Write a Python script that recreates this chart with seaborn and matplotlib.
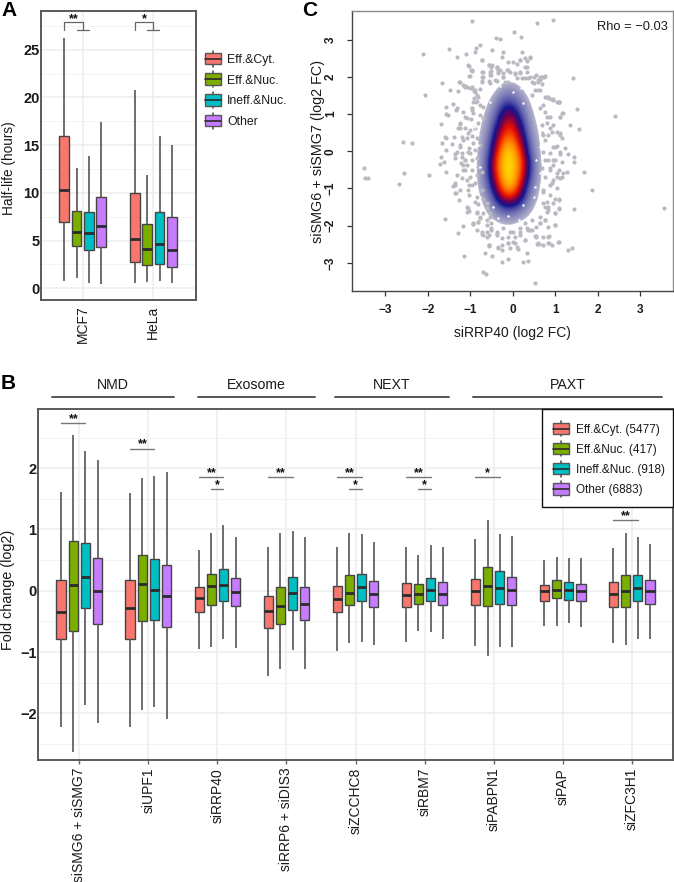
import numpy as np
import pandas as pd
import matplotlib
matplotlib.use("Agg")
import matplotlib.pyplot as plt
import seaborn as sns
from matplotlib.colors import LinearSegmentedColormap
from matplotlib.legend_handler import HandlerBase
from matplotlib.lines import Line2D
from matplotlib.patches import Rectangle

classes = ["Eff.&Cyt.", "Eff.&Nuc.", "Ineff.&Nuc.", "Other"]
class_counts = [5477, 417, 918, 6883]
palette = ["#F8766D", "#7CAE00", "#00BFC4", "#C77CFF"]

# panel A, five number summaries (4 boxes per cell line)
a_groups = ["MCF7", "HeLa"]
a_low = [0.77, 1.05, 0.6, 0.42, 0.6, 0.63, 0.77, 0.6]
a_q1 = [6.9, 4.4, 4.0, 4.3, 2.8, 2.4, 2.58, 2.27]
a_med = [10.3, 5.9, 5.76, 6.5, 5.2, 4.08, 4.64, 3.98]
a_q3 = [15.96, 8.07, 8.0, 9.57, 10.0, 6.77, 8.03, 7.44]
a_high = [26.2, 12.64, 13.9, 17.4, 20.8, 11.87, 16.0, 15.0]

# panel B
b_groups = ["siSMG6 + siSMG7", "siUPF1", "siRRP40", "siRRP6 + siDIS3", "siZCCHC8",
            "siRBM7", "siPABPN1", "siPAP", "siZFC3H1"]
b_low = [-2.22, -2.63, -1.86, -2.15, -2.22, -1.95, -1.90, -2.10, -0.95, -0.92, -0.79, -0.93,
         -1.39, -1.27, -0.97, -1.27, -0.985, -0.86, -0.84, -0.89, -0.84, -0.65, -0.68, -0.78,
         -0.90, -1.06, -0.91, -0.91, -0.57, -0.57, -0.53, -0.59, -0.86, -0.89, -0.78, -0.79]
b_q1 = [-0.79, -0.65, -0.28, -0.55, -0.79, -0.50, -0.47, -0.59, -0.34, -0.23, -0.16, -0.25,
        -0.61, -0.54, -0.32, -0.48, -0.35, -0.24, -0.17, -0.27, -0.26, -0.22, -0.17, -0.23,
        -0.24, -0.25, -0.21, -0.23, -0.17, -0.12, -0.15, -0.17, -0.27, -0.27, -0.17, -0.21]
b_med = [-0.35, 0.10, 0.22, -0.005, -0.28, 0.11, 0.005, -0.09, -0.125, 0.08, 0.10, -0.02,
         -0.33, -0.25, -0.04, -0.22, -0.13, -0.04, 0.055, -0.045, -0.07, -0.05, 0.02, -0.045,
         -0.01, 0.08, 0.04, 0.01, 0.0, 0.016, 0.005, -0.005, -0.06, -0.005, 0.04, -0.01]
b_q3 = [0.17, 0.82, 0.78, 0.53, 0.17, 0.58, 0.52, 0.42, 0.065, 0.27, 0.35, 0.21,
        -0.08, 0.055, 0.22, 0.065, 0.08, 0.25, 0.28, 0.16, 0.13, 0.11, 0.21, 0.15,
        0.20, 0.38, 0.32, 0.23, 0.10, 0.18, 0.14, 0.115, 0.14, 0.26, 0.26, 0.18]
b_high = [1.605, 2.54, 2.28, 2.13, 1.59, 1.84, 1.88, 1.93, 0.67, 0.95, 1.08, 0.88,
          0.72, 0.94, 0.98, 0.87, 0.72, 0.94, 0.93, 0.79, 0.71, 0.59, 0.75, 0.71,
          0.85, 1.16, 0.93, 0.90, 0.50, 0.555, 0.53, 0.53, 0.69, 0.95, 0.87, 0.76]

# significance bars in B: group, first box, last box, height, label
sig_group = [0, 1, 2, 2, 3, 4, 4, 5, 5, 6, 8]
sig_first = [0, 0, 0, 1, 0, 0, 1, 0, 1, 0, 0]
sig_last = [2, 2, 2, 2, 2, 2, 2, 2, 2, 2, 2]
sig_y = [2.73, 2.32, 1.855, 1.655, 1.855, 1.855, 1.655, 1.855, 1.655, 1.855, 1.15]
sig_label = ["**", "**", "**", "*", "**", "**", "*", "**", "*", "*", "**"]

# header lines over B
head_names = ["NMD", "Exosome", "NEXT", "PAXT"]
head_left = [52, 198, 335, 473]
head_right = [174, 315, 449, 662]

# panel C, loose points
c_x = [-.97, .57, .96, .02, .19, -.39, -.30, -.77, -.87, -.89, -.49, -1.51, -2.11, -1.32, -1.10, -.22, -.26, .21,
       -.73, -1.04, -.97, -.38, -.49, .41, .33, .17, .09, -.10, 1.43, .76, .64, -1.66, -1.26, -1.48, -2.06, -1.12,
       -1.0, -.92, 1.51, 2.40, 1.56, 1.35, 1.15, 1.04, .84, .96, -2.58, -2.37, -1.68, -1.52, -1.56, -1.41, -1.32,
       -1.16, -1.59, -1.67, -1.39, -1.70, -1.61, -1.71, -1.35, -1.56, -1.98, -3.51, -3.48, -3.42, -2.56, -2.69,
       -1.12, -1.16, -1.37, -1.40, -1.34, -1.26, -1.59, -1.16, -1.28, -1.15, -.65, -.49, -.26, -.10, -.71, -.64,
       .53, .25, .35, .33, -.35, -.57, -.71, -.85, -.93, 3.57, 1.86, 1.68, 1.45, 1.45, 1.15, 1.04, 1.45, 1.30,
       1.40, 1.06, .92, .72, .86, .55, .61, .41, .84, .96, 1.08, 1.19, 1.27, 1.04, .88, .96, 1.12, 1.15, .84, .96, .80,
       -.57, -.50, -.36, -.30, -.69, -.53, -.34, -.14, -.06, .05, .17, .29, .33, -.97, -1.02, -.69, -.50, -.22, .09,
       .37, .49, .64, .74, -.73, -.57, -.38, -.10, .21, .45, .60, .68, -1.24, -1.16, -1.08, -.97, -.89, -1.28, .53,
       .64, .45, 1.10, .72, -.91, -.83, -.95, -.77, -.69,
       -1.08, -1.02, -.81, -.83, -.77, -.61, -.53, -.60, -.50, -.81, -.94, -.73, -.61, -.60, -.50, -.38, -.36, -.22,
       -.06, .05, .17, .33, .45, .64, .76, .56, 1.0, .84, .53, .29, .84, .0, -.10, -.26, .09, .13, .58, .86, -.57, 1.08,
       .80, .64, 1.0,
       -1.34, -1.56, -1.24, -1.12, -.97, -.93, -1.23, -1.57, -1.44, -1.16, -1.24, -1.05, -1.56, -1.32, -1.20, -1.05,
       -1.36, -1.16, -1.12, -1.20, -1.36, -1.08, -1.05, -1.36, -.85, -.97,
       .80, .96, 1.10, 1.19, 1.11, .88, 1.04, .72, 1.0, 1.23, 1.11, 1.31, .96, 1.08, .84, 1.15, .92, .72, 1.0, .80, 1.08]
c_y = [3.51, 3.44, 3.53, 3.21, 3.07, 3.05, 3.01, 2.85, 2.79, 2.66, 2.73, 2.74, 2.62, 2.55, 2.61, 2.66, 2.55, 2.68,
       2.46, 2.30, 2.19, 2.23, 2.32, 2.50, 2.43, 2.46, 2.34, 2.41, 1.96, 2.03, 1.92, 1.85, 1.87, 1.65, 1.52, 1.76,
       1.70, 1.63, 1.13, .96, .60, .71, 1.02, 1.34, 1.45, 1.41, .26, .22, .74, .98, 1.18, 1.27, 1.16,
       1.07, .38, .22, .39, -.15, -.30, -.33, -.07, -.55, -.64, -.46, -.73, -.72, -.57, -.88,
       -.23, -.50, -.86, -.93, -1.13, -1.31, -1.81, -2.0, -2.19, -2.81, -2.74, -2.82, -2.97, -2.89, -3.26, -3.30,
       -3.55, -2.97, -2.95, -2.74, -2.61, -2.54, -2.25, -2.12, -1.96, -1.52, -1.05, -.56, -.14, -.30, -.30, .13, -1.56, -2.65,
       -2.60, -2.45, -2.52, -2.52, -2.28, -2.27, -2.50, -2.12, -1.49, -1.40, -1.31, -.59, -.55, -.68, -.46, -.23, .48, .35, .44, .71, .93,
       2.32, 2.28, 2.26, 2.19, 2.14, 2.14, 2.10, 2.19, 2.14, 2.08, 2.12, 2.28, 2.14, 2.17, 2.03, 2.01, 2.05, 2.01, 1.96,
       1.96, 2.01, 2.01, 2.01, 1.90, 1.90, 1.90, 1.87, 1.96, 1.87, 1.92, 1.81, 1.87, 1.78, 1.74, 1.72, 1.65, 1.62, 1.65,
       1.65, 1.51, 1.34, 1.25, 1.43, 1.36, 1.16, 1.25, 1.18,
       -1.51, -1.60, -1.42, -1.62, -1.76, -1.53, -1.67, -1.85, -1.94, -1.89, -1.96, -2.23, -2.16, -2.30, -2.12, -2.16, -2.25, -2.07,
       -2.16, -2.30, -2.16, -2.07, -2.12, -1.94, -1.85, -2.03, -1.98, -2.03, -2.28, -2.39, -2.30, -2.43, -2.48, -2.52, -2.57, -2.63, -2.49, -2.48, -2.52, -1.53,
       -1.62, -1.76, -1.67,
       1.11, 1.0, .75, .93, 1.11, 1.34, .62, .35, .21, .30, .17, .48, .03, -.01, -.14, -.01,
       -.19, -.37, -.50, -.73, -.91, -.77, -1.04, -1.13, -1.22, -.91,
       1.47, 1.38, 1.33, 1.04, .91, .62, .53, .44, .12, .08, -.06, -.06, -.37, -.50, -.23, -.68, -.86, -1.04, -1.27, -1.36, -1.54]

# second pass over the fringe of the cloud, left, right, top, bottom
fringe_x = [-.82, -.87, -.97, -.93, -1.08, -.98, -1.24, -1.28, -1.12, -1.0, -.89, -.81, -.77, -.69, -1.20, -1.08, -.97,
            -.85, -.93, -1.24, -1.20, -1.04, -1.0, -.89, -.77, -1.12, -1.08, -.97, -.85, -1.22, -.97, -.81, -1.32, -1.0,
            -.85, -.73, -1.04, -.89, -1.24, -1.04, -.89, -.73, -.69, -.61,
            .84, 1.08, .64, .76, .88, 1.11, .68, .80, .68, .92, 1.11, .76, .96, 1.11, .72, .88, .76, 1.0, .68, .88, 1.04,
            .76, .96, 1.11, .88, .72, 1.04, .88, 1.08, .72,
            -1.05, -.98, -1.0, -.73, -.56, -.38, -.34, -.73, -.51, -.73, -.54, -.22, -.10, .05, .17, .29, .17, .29, .41,
            .33, .01, -.22, -.18, -.73, -.54, -.42, .41, .56, .68, .60, .49, .60, -.89, -.97, -1.12, -.85, -.77, .76, .90,
            -1.05, -1.08, -.85, -.69, -.54, -.77, -.93, -.81, -.61, -.50, -.73, -.57, -.38, -.26, -.10, .01, .17, .29, .45,
            .64, .76, .84, 1.0, .76, 1.0, .37, .17, .56, .72, .29, .05, -.10, -.57, -.26, -.34, -.06, .60, .84, 1.08]
fringe_y = [1.47, 1.34, 1.16, 1.02, .89, .87, .73, .62, .64, .57, .62, .75, .98, .89, .39, .35, .40,
            .35, .22, .12, -.05, .08, -.05, .04, .17, -.23, -.37, -.23, -.19, -.32, -.50, -.41, -.64, -.68,
            -.64, -.55, -.91, -.86, -1.04, -1.18, -1.36, -1.04, -1.27, -1.40,
            1.44, 1.34, 1.16, 1.07, .93, .93, .71, .75, .48, .53, .44, .30, .12, -.01, -.01, -.05, -.23, -.23, -.46, -.50, -.59,
            -.68, -.77, -.73, -.91, -1.09, -1.0, -1.18, -1.27, -1.40,
            2.32, 2.19, 2.03, 2.46, 2.32, 2.28, 2.17, 2.14, 2.17, 2.01, 2.05, 2.10, 2.19, 2.10, 2.14, 1.96, 2.46, 2.50, 2.53,
            2.28, 2.41, 2.01, 1.87, 1.87, 1.83, 1.92, 2.01, 2.05, 2.01, 1.87, 1.83, 1.65, 1.60, 1.69, 1.74, 1.51, 1.67, 1.47, 1.42,
            -1.53, -1.62, -1.67, -1.67, -1.76, -1.80, -1.94, -1.89, -1.98, -2.07, -2.16, -2.25, -2.21, -2.34, -2.30, -2.16, -2.07, -1.94, -1.85,
            -1.94, -1.85, -1.58, -1.67, -1.49, -1.98, -2.12, -2.25, -2.30, -2.30, -2.39, -2.48, -2.48, -2.52, -2.66, -2.57, -2.61, -2.48, -2.48, -2.43]

# small white gaps seen in the lilac band
gap_x = [-.77, -.535, .25, .56, -.77, -.89, .64, -.81, .64, .56, -.77, -.89, .64, .52, -.77, .49, -.46, .25, -.3, .0, .2, -.1, .15, -.35]
gap_y = [1.38, 1.335, 1.29, 1.02, .84, .66, .48, .17, .12, -.23, -.41, -.73, -.59, -.95, -1.22, -1.22, -1.49, -1.45, 1.75, 1.6, 1.7, -1.75, -1.85, -1.8]

# panel C, density levels (0 empty .. 8 yellow core)
dens_x = [-1.0, -0.8, -0.6, -0.4, -0.2, 0.0, 0.2, 0.4, 0.6, 0.8]
dens_y = [2.1, 1.8, 1.5, 1.2, 0.9, 0.6, 0.3, 0.0, -0.3, -0.6, -0.9, -1.2, -1.5, -1.8, -2.1, -2.4]
dens = [[0, 0, 0, 0, .5, .5, .3, 0, 0, 0],
        [0, 0, .3, 1.2, 1.9, 1.9, 1.4, .6, 0, 0],
        [0, 0, 1.2, 1.9, 2.6, 2.6, 2.1, 1.4, .3, 0],
        [0, .7, 1.7, 2.5, 3.8, 3.8, 2.7, 1.8, .9, 0],
        [0, 1.2, 2.0, 3.0, 5.0, 5.2, 3.4, 2.1, 1.3, .3],
        [.3, 1.5, 2.2, 3.8, 5.8, 6, 4.2, 2.3, 1.6, .5],
        [.4, 1.7, 2.4, 4.6, 6.8, 7.0, 5, 2.7, 1.8, .6],
        [.5, 1.8, 2.7, 5.4, 7.8, 7.8, 6, 3.0, 1.9, .7],
        [.6, 1.9, 3.0, 6.2, 8, 8, 6.6, 3.6, 2.0, .9],
        [.6, 1.9, 3.0, 6, 8, 8, 6.4, 3.5, 2.0, .9],
        [.5, 1.8, 2.8, 5, 7.6, 7.8, 5.5, 2.9, 1.9, .7],
        [.3, 1.5, 2.3, 3.9, 6, 6.2, 4.4, 2.4, 1.7, .5],
        [.2, 1.1, 1.9, 2.7, 3.6, 3.6, 2.9, 2.0, 1.3, .4],
        [0, .6, 1.4, 1.9, 2.2, 2.2, 1.9, 1.4, .8, .2],
        [0, 0, .4, .9, 1.2, 1.2, .8, .5, .2, 0],
        [0, 0, 0, 0, .3, .3, .2, 0, 0, 0]]

W, H = 674, 882
sns.set_theme(style="white")
plt.rcParams["font.family"] = ["Liberation Sans", "DejaVu Sans"]
plt.rcParams["text.color"] = "#1a1a1a"
plt.rcParams["axes.labelcolor"] = "#1a1a1a"
plt.rcParams["xtick.color"] = "#1a1a1a"
plt.rcParams["ytick.color"] = "#1a1a1a"

fig = plt.figure(figsize=(W / 100, H / 100), dpi=100)


def px_axes(left, top, right, bottom):
    return fig.add_axes([left / W, 1 - bottom / H, (right - left) / W, (bottom - top) / H])


def long_table(groups, lo, q1, med, q3, hi):
    rows = []
    for i in range(len(lo)):
        for v in (lo[i], q1[i], med[i], q3[i], hi[i]):
            rows.append({"group": groups[i // 4], "cls": classes[i % 4], "val": v})
    return pd.DataFrame(rows)


def draw_boxes(ax, table, order):
    # whiskers to 0/100 percentile of the 5 values gives back the summary as read
    sns.boxplot(data=table, x="group", y="val", hue="cls", order=order, hue_order=classes,
                palette=palette, width=0.7, gap=0.2, whis=(0, 100), showcaps=False,
                showfliers=False, saturation=1, linewidth=1.0, linecolor="#444444",
                medianprops={"linewidth": 2, "color": "#2b2b2b"},
                whiskerprops={"linewidth": 1.2, "color": "#555555"},
                legend=False, ax=ax)
    ax.set_xlabel("")
    ax.set_axisbelow(True)
    ax.grid(True, which="major", color="#ededed", lw=1.1)
    ax.tick_params(axis="y", which="minor", length=0)
    ax.grid(True, which="minor", axis="y", color="#f3f3f3", lw=0.7)
    for s in ax.spines.values():
        s.set_color("#5a5a5a")
        s.set_linewidth(1.4)


class BoxKey(HandlerBase):
    def create_artists(self, legend, orig, xd, yd, width, height, fontsize, trans):
        mid = height / 2 - yd
        box_h = fontsize * 0.95
        stem_h = fontsize * 1.3
        stem = Line2D([width / 2 - xd] * 2, [mid - stem_h / 2, mid + stem_h / 2], color="#444444", lw=1.1, transform=trans)
        box = Rectangle((-xd, mid - box_h / 2), width, box_h, fc=orig.get_facecolor(), ec="#555555", lw=1.0, transform=trans)
        line = Line2D([-xd, width - xd], [mid, mid], color="#2b2b2b", lw=1.2, transform=trans)
        return [stem, box, line]


def key_handles():
    return [Rectangle((0, 0), 1, 1, fc=c) for c in palette]


# A
ax_a = px_axes(41, 11, 196, 300)
draw_boxes(ax_a, long_table(a_groups, a_low, a_q1, a_med, a_q3, a_high), a_groups)
ax_a.set_xlim(-0.59, 1.604)
ax_a.set_ylim(-1.22, 29.05)
ax_a.set_yticks([0, 5, 10, 15, 20, 25])
ax_a.set_yticks([2.5, 7.5, 12.5, 17.5, 22.5, 27.5], minor=True)
ax_a.set_ylabel("Half-life (hours)", fontsize=9.8)
ax_a.yaxis.set_label_coords((16 - 41) / 155, (300 - 168) / 289)
ax_a.tick_params(axis="y", labelsize=10.5, length=0, pad=1)
ax_a.tick_params(axis="x", labelsize=10, length=0, pad=4)
plt.setp(ax_a.get_yticklabels(), fontweight="bold")
plt.setp(ax_a.get_xticklabels(), rotation=90)
for g, star in zip(range(2), ["**", "*"]):
    ax_a.plot([g - 0.262, g - 0.262, g, g], [27.03, 27.86, 27.86, 27.1], color="#666666", lw=0.9)
    ax_a.plot([g - 0.087, g + 0.087], [27.03, 27.03], color="#666666", lw=0.9)
    ax_a.text(g - 0.13, 27.55, star, ha="center", va="bottom", fontsize=9, color="#111111", fontweight="bold")
fig.legend(key_handles(), classes, handler_map={Rectangle: BoxKey()}, loc="upper left",
           bbox_to_anchor=(205 / W, 1 - 53.9 / H), frameon=False, fontsize=8.8, handlelength=1.31,
           handletextpad=0.49, labelspacing=0.71, borderpad=0, borderaxespad=0)

# B
ax_b = px_axes(38, 409, 673, 759.5)
draw_boxes(ax_b, long_table(b_groups, b_low, b_q1, b_med, b_q3, b_high), b_groups)
ax_b.set_xlim(-0.6, 8.6)
ax_b.set_ylim(-2.753, 2.966)
ax_b.set_yticks([-2, -1, 0, 1, 2])
ax_b.set_yticks([-2.5, -1.5, -0.5, 0.5, 1.5, 2.5], minor=True)
ax_b.set_ylabel("Fold change (log2)", fontsize=10.4)
ax_b.yaxis.set_label_coords((15 - 38) / 635, (759.5 - 590) / 350.5)
ax_b.tick_params(axis="y", labelsize=10.5, length=0, pad=1)
ax_b.tick_params(axis="x", labelsize=10, length=3, width=1, color="#666666", pad=3, bottom=True)
ax_b.set_yticklabels(["\u22122", "\u22121", "0", "1", "2"], fontweight="bold")
plt.setp(ax_b.get_xticklabels(), rotation=90)
for g, a, b, y, lab in zip(sig_group, sig_first, sig_last, sig_y, sig_label):
    x0 = g - 0.2625 + a * 0.175
    x1 = g - 0.2625 + b * 0.175
    ax_b.plot([x0, x1], [y, y], color="#777777", lw=1.0)
    ax_b.text((x0 + x1) / 2, y - 0.03, lab, ha="center", va="bottom", fontsize=9, color="#111111", fontweight="bold")
# framed legend of B, frame placed on its own
ax_b.add_patch(Rectangle((541.7 / W, 1 - 506.7 / H), 131.3 / W, 97.7 / H, transform=fig.transFigure, fc="white",
                         ec="#111111", lw=1.0, zorder=6, clip_on=False))
leg = ax_b.legend(key_handles(), [f"{c} ({n})" for c, n in zip(classes, class_counts)],
                  handler_map={Rectangle: BoxKey()}, loc="upper left",
                  bbox_to_anchor=(553 / W, 1 - 423.7 / H), bbox_transform=fig.transFigure,
                  frameon=False, fontsize=8.5, handlelength=1.36, handletextpad=0.56,
                  labelspacing=0.69, borderpad=0, borderaxespad=0)
leg.set_zorder(7)
for name, l, r in zip(head_names, head_left, head_right):
    fig.add_artist(Line2D([l / W, r / W], [1 - 396.7 / H] * 2, color="#555555", lw=1.4))
    fig.text((l + r) / 2 / W, 1 - 385 / H, name, ha="center", va="center", fontsize=10.2)

# C
ax_c = px_axes(351.7, 11, 673, 291)
grey_pts = pd.DataFrame({"x": c_x + fringe_x, "y": c_y + fringe_y})
sns.scatterplot(data=grey_pts, x="x", y="y", color="#b9b9c2", s=9, linewidth=0, ax=ax_c, zorder=4)
sns.scatterplot(x=gap_x, y=gap_y, color="white", s=3, linewidth=0, ax=ax_c, zorder=5)
cloud_cmap = LinearSegmentedColormap.from_list("cloud", [
    (0.0, (1, 1, 1, 0)), (0.19, (0.70, 0.70, 0.80, 0)), (0.205, (0.70, 0.70, 0.80, 1)),
    (0.30, "#8585bb"), (0.40, "#5252a8"), (0.49, "#14148c"), (0.60, "#700050"),
    (0.72, "#e81000"), (0.86, "#ff7a00"), (1.0, "#ffd800")])
ax_c.imshow(dens, cmap=cloud_cmap, vmin=0, vmax=8, aspect="auto", interpolation="bicubic", zorder=3,
            extent=(dens_x[0] - 0.1, dens_x[-1] + 0.1, dens_y[-1] - 0.15, dens_y[0] + 0.15))
ax_c.set_xlim(-3.793, 3.776)
ax_c.set_ylim(-3.758, 3.775)
ax_c.set_xticks([-3, -2, -1, 0, 1, 2, 3])
ax_c.set_xticklabels(["\u22123", "\u22122", "\u22121", "0", "1", "2", "3"], fontweight="bold")
ax_c.set_yticks([-3, -2, -1, 0, 1, 2, 3])
ax_c.set_yticklabels(["\u22123", "\u22122", "\u22121", "0", "1", "2", "3"], fontweight="bold", rotation=90, va="center")
ax_c.tick_params(axis="both", labelsize=8.5, length=3.6, width=0.9, color="#333333", left=True, bottom=True)
ax_c.tick_params(axis="y", pad=7)
ax_c.tick_params(axis="x", pad=6)
ax_c.set_xlabel("siRRP40 (log2 FC)", fontsize=10)
ax_c.xaxis.set_label_coords(0.5, -(326 - 291) / 280)
ax_c.set_ylabel("siSMG6 + siSMG7 (log2 FC)", fontsize=10.4)
ax_c.yaxis.set_label_coords(-(351.7 - 325) / 321.3, 0.5)
for side, s in ax_c.spines.items():
    s.set_color("#444444" if side in ("left", "bottom") else "#8a8a8a")
    s.set_linewidth(1.0)
ax_c.text(0.985, 0.965, "Rho = \u22120.03", transform=ax_c.transAxes, ha="right", va="top", fontsize=9.3)

for lab, x, y in [("A", 1, 11), ("B", 1, 383), ("C", 302, 10)]:
    fig.text(x / W, 1 - y / H, lab, ha="left", va="center", fontsize=15, fontweight="bold", color="#000000")

fig.savefig("out.png", dpi=100)
